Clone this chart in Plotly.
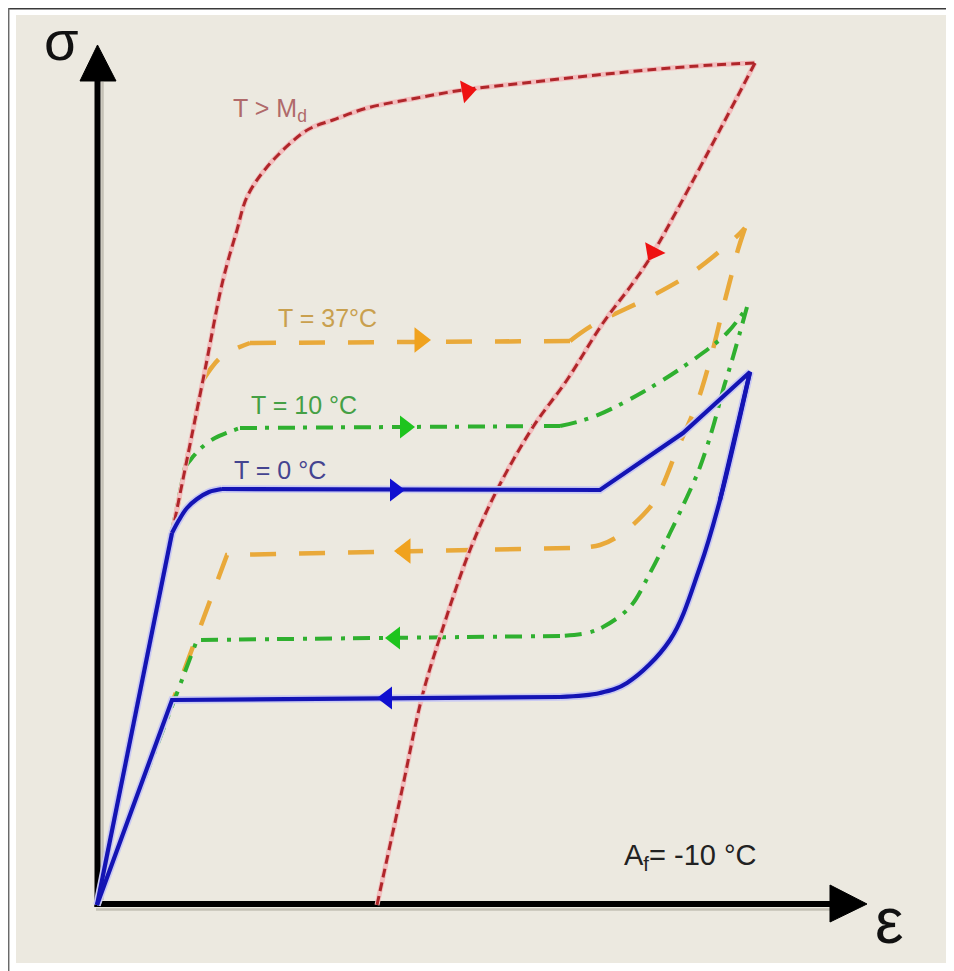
import plotly.graph_objects as go

# page is 954x971; the browser body margin puts the figure at (8, 8)
OFF = 8
W, H = 954 - OFF, 971 - OFF

# ---- data: strain (%) and stress (MPa) ----
# T = 0 °C (blue, solid) : loading, peak, unloading, return to origin
t0_x = [0, 0.75, 0.82, 0.90, 1.00, 1.12, 1.25, 5.03, 5.86, 6.53,
        6.23, 6.03, 5.73, 5.30, 5.03, 4.63, 0.75, 0]
t0_y = [0, 372, 385, 397, 406, 413, 416, 415, 472, 533,
        405, 338, 265, 222, 212, 208, 205, 0]
t0_arrow_x = [2.98, 2.90]
t0_arrow_y = [415, 207]

# T = 10 °C (green, dash-dot)
t10_x = [0, 0.88, 0.95, 1.03, 1.18, 1.43, 4.63, 4.96, 5.46, 5.96, 6.30, 6.50,
         6.36, 6.26, 6.16, 6.03, 5.90, 5.73, 5.53, 5.33, 5.06, 4.90, 4.63, 1.00, 0]
t10_y = [0, 438, 447, 456, 467, 477, 479, 488, 513, 545, 572, 598,
         548, 515, 478, 438, 408, 372, 332, 298, 278, 272, 269, 265, 0]
t10_arrow_x = [3.08, 2.98]
t10_arrow_y = [478, 267]

# T = 37 °C (orange, dashed)
t37_x = [0, 1.06, 1.15, 1.23, 1.36, 1.53, 4.73, 4.96, 5.53, 5.96, 6.38, 6.48,
         6.40, 6.34, 6.28, 6.15, 6.00, 5.80, 5.60, 5.46, 5.23, 5.03, 4.73, 1.53, 1.30, 0]
t37_y = [0, 525, 538, 547, 555, 562, 564, 580, 608, 633, 667, 677,
         652, 628, 605, 552, 502, 455, 408, 390, 370, 360, 357, 350, 350, 0]
t37_arrow_x = [3.23, 3.08]
t37_arrow_y = [565, 354]

# T > Md (red, short dashes)
md_load_x = [0, 1.06, 1.26, 1.40, 1.50, 1.70, 2.03, 2.16, 2.36, 2.70, 3.20, 3.66, 4.36, 5.00, 5.50, 6.16, 6.58]
md_load_y = [0, 525, 625, 675, 708, 738, 770, 778, 785, 797, 807, 815, 823, 830, 835, 840, 842]
md_unload_x = [6.58, 5.56, 5.36, 5.06, 4.70, 4.36, 4.00, 3.73, 3.43, 3.25, 3.05, 2.80]
md_unload_y = [842, 652, 622, 582, 525, 478, 415, 355, 268, 208, 115, 0]
md_arrow_x = [3.70, 5.56]
md_arrow_y = [814, 653]

labels = ["T > M<sub>d</sub>", "T = 37°C", "T = 10 °C", "T = 0 °C"]
af_label = "A<sub>f</sub>= -10 °C"

# ---- colours / styles ----
BLUE, BLUE_HALO = "#1414B4", "#C9C9F2"
GREEN = "#2FB02F"
ORANGE = "#E9A93A"
RED, RED_HALO = "#B0262A", "#F2BEBE"
BEIGE = "#ECE9E0"

fig = go.Figure()

def line(x, y, color, width, dash="solid", shape="linear"):
    fig.add_trace(go.Scatter(x=x, y=y, mode="lines", hoverinfo="skip",
                             line=dict(color=color, width=width, dash=dash, shape=shape,
                                       smoothing=1),
                             showlegend=False))

def path(x, y, pieces, color, width, dash="solid"):
    for i, j, shape in pieces:
        line(x[i:j + 1], y[i:j + 1], color, width, dash, shape)

def arrows(x, y, symbols, color, size, angles=None):
    fig.add_trace(go.Scatter(x=x, y=y, mode="markers", hoverinfo="skip", showlegend=False,
                             marker=dict(symbol=symbols, color=color, size=size,
                                         angle=angles if angles else 0,
                                         line=dict(width=0))))

loop_pieces_37 = [(0, 1, "linear"), (1, 5, "spline"), (5, 6, "linear"), (6, 11, "spline"),
                  (11, 22, "spline"), (22, 25, "linear")]
loop_pieces_10 = [(0, 1, "linear"), (1, 5, "spline"), (5, 6, "linear"), (6, 11, "spline"),
                  (11, 22, "spline"), (22, 24, "linear")]
loop_pieces_0 = [(0, 1, "linear"), (1, 6, "spline"), (6, 10, "linear"),
                 (9, 15, "spline"), (15, 17, "linear")]

# orange
path(t37_x, t37_y, loop_pieces_37, ORANGE, 4.5, "26px,23px")
arrows(t37_arrow_x, t37_arrow_y, ["triangle-right", "triangle-left"], "#F0A21E", 22)
# green
path(t10_x, t10_y, loop_pieces_10, GREEN, 4, "17px,8px,4px,9px")
arrows(t10_arrow_x, t10_arrow_y, ["triangle-right", "triangle-left"], "#1EC41E", 20)
# red
line(md_load_x, md_load_y, RED_HALO, 5, "solid", "spline")
line(md_unload_x, md_unload_y, RED_HALO, 5, "solid", "spline")
line(md_load_x, md_load_y, RED, 3, "9px,5px", "spline")
line(md_unload_x, md_unload_y, RED, 3, "9px,5px", "spline")
arrows(md_arrow_x, md_arrow_y, ["triangle-up", "triangle-up"], "#EE1111", 20, [80, 208])
# blue
path(t0_x, t0_y, loop_pieces_0, BLUE_HALO, 7.5)
path(t0_x, t0_y, loop_pieces_0, BLUE, 4.2)
arrows(t0_arrow_x, t0_arrow_y, ["triangle-right", "triangle-left"], "#1010D0", 20)

# ---- decorations (page pixel -> paper) ----
def px(x):
    return (x - OFF) / W

def py(y):
    return 1 - (y - OFF) / H

shapes = []
shapes.append(dict(type="rect", xref="paper", yref="paper", x0=px(16), x1=px(952), y0=py(963), y1=py(15),
                   fillcolor=BEIGE, line=dict(width=0), layer="below"))
shapes.append(dict(type="line", xref="paper", yref="paper", x0=px(8), x1=px(953), y0=py(8.7), y1=py(8.7),
                   line=dict(color="#3a3a3a", width=1.5), layer="below"))
shapes.append(dict(type="line", xref="paper", yref="paper", x0=px(8.7), x1=px(8.7), y0=py(8), y1=py(971),
                   line=dict(color="#6a6a6a", width=1.5), layer="below"))
# axis shadows
shapes.append(dict(type="line", xref="paper", yref="paper", x0=px(102.5), x1=px(102.5), y0=py(900), y1=py(82),
                   line=dict(color="#c4c0b6", width=2.5), layer="below"))
shapes.append(dict(type="line", xref="paper", yref="paper", x0=px(96), x1=px(830), y0=py(909.5), y1=py(909.5),
                   line=dict(color="#c4c0b6", width=2.5), layer="below"))
# axes
shapes.append(dict(type="line", xref="paper", yref="paper", x0=px(97.5), x1=px(97.5), y0=py(907), y1=py(78),
                   line=dict(color="black", width=6), layer="below"))
shapes.append(dict(type="line", xref="paper", yref="paper", x0=px(94.5), x1=px(834), y0=py(904), y1=py(904),
                   line=dict(color="black", width=6), layer="below"))

def tri(points):
    p = "M " + " L ".join(f"{px(a):.5f},{py(b):.5f}" for a, b in points) + " Z"
    return dict(type="path", xref="paper", yref="paper", path=p, fillcolor="black",
                line=dict(color="black", width=1), layer="below")

shapes.append(tri([(80, 81), (97.5, 45), (116, 81)]))
shapes.append(tri([(830, 885), (867, 904), (830, 922)]))

ann = []
FONT = "Liberation Sans, Arial, sans-serif"
def text(t, x, y, color, size, xanchor="left"):
    ann.append(dict(text=t, x=px(x), y=py(y), xref="paper", yref="paper", showarrow=False,
                    xanchor=xanchor, yanchor="middle", font=dict(family=FONT, size=size, color=color)))

text(labels[0], 231, 110, "#B06A6A", 25)
text(labels[1], 276, 318, "#C9A04E", 25)
text(labels[2], 249, 405, "#45A045", 25)
text(labels[3], 232, 470, "#444490", 25)
text(af_label, 622, 857, "#222222", 29)
text("σ", 61, 40, "#111111", 56, "center")
text("ε", 889, 921, "#111111", 64, "center")

fig.update_layout(
    width=W, height=H,
    margin=dict(l=0, r=0, t=0, b=0),
    paper_bgcolor="white", plot_bgcolor="rgba(0,0,0,0)",
    shapes=shapes, annotations=ann,
    xaxis=dict(range=[(OFF - 97) / 100, (954 - 97) / 100], visible=False, fixedrange=True),
    yaxis=dict(range=[905 - 971, 905 - OFF], visible=False, fixedrange=True),
    showlegend=False,
)

fig.write_html("out.html")
